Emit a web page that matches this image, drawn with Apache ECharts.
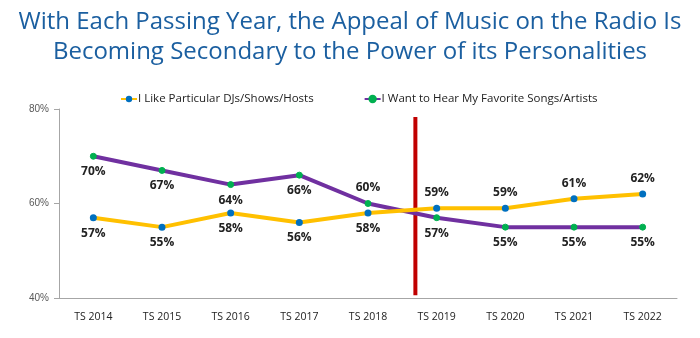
<!DOCTYPE html>
<html><head><meta charset="utf-8">
<script src="https://cdn.jsdelivr.net/npm/echarts@6/dist/echarts.min.js"></script>
<style>html,body{margin:0;padding:0;background:#fff}#c{width:700px;height:338px}</style>
</head><body><div id="c"></div>
<script>
const categories = ['TS 2014','TS 2015','TS 2016','TS 2017','TS 2018','TS 2019','TS 2020','TS 2021','TS 2022'];
const djs = [57,55,58,56,58,59,59,61,62];
const songs = [70,67,64,66,60,57,55,55,55];
const djsLabelPos = ['bottom','bottom','bottom','bottom','bottom','top','top','top','top'];
const songsLabelPos = ['bottom','bottom','bottom','bottom','top','bottom','bottom','bottom','bottom'];
const dividerX = 4.69;
const dividerY = [78.3, 40.6];

const chart = echarts.init(document.getElementById('c'));
const lbl = {show:true, formatter:p=>p.value+'%', fontSize:12, fontWeight:'bold', color:'#222', distance:6, fontFamily:'Open Sans'};
chart.setOption({
  animation:false,
  title:{text:'With Each Passing Year, the Appeal of Music on the Radio Is\nBecoming Secondary to the Power of its Personalities',
    left:'center', top:2, textStyle:{color:'#1b5fa0', fontSize:24, fontWeight:'normal', fontFamily:'Open Sans', lineHeight:30}},
  legend:{top:88, left:115, itemGap:50, itemWidth:16, itemHeight:8, textStyle:{fontSize:11.5, color:'#222', fontFamily:'Open Sans', padding:[0,0,0,-4]},
    data:['I Like Particular DJs/Shows/Hosts','I Want to Hear My Favorite Songs/Artists']},
  grid:{left:59, right:23, top:109, bottom:40},
  xAxis:[{type:'category', data:categories, axisLine:{lineStyle:{color:'#a6a6a6'}}, axisTick:{show:false},
    axisLabel:{color:'#222', fontSize:10.5, margin:14, fontFamily:'Open Sans'}},
    {type:'value', min:-0.5, max:8.5, show:false}],
  yAxis:{type:'value', min:40, max:80, interval:20, axisLine:{show:true, onZero:false, lineStyle:{color:'#a6a6a6'}}, splitLine:{show:false},
    axisLabel:{color:'#595959', fontSize:10, formatter:'{value}%', margin:10}},
  series:[
    {type:'line', xAxisIndex:1, data:dividerY.map(v=>[dividerX,v]), symbol:'none', lineStyle:{color:'#c00000', width:4}, silent:true, z:1},
    {name:'I Like Particular DJs/Shows/Hosts', type:'line', data:djs.map((v,i)=>({value:v, label:{position:djsLabelPos[i]}})),
      lineStyle:{color:'#ffc000', width:4}, itemStyle:{color:'#0070c0'}, symbol:'circle', symbolSize:7, label:lbl, z:3},
    {name:'I Want to Hear My Favorite Songs/Artists', type:'line', data:songs.map((v,i)=>({value:v, label:{position:songsLabelPos[i]}})),
      lineStyle:{color:'#7030a0', width:4}, itemStyle:{color:'#00b050', borderColor:'#00b050', borderWidth:1}, symbol:'circle', symbolSize:6, label:lbl, z:2}
  ]
});
</script></body></html>
